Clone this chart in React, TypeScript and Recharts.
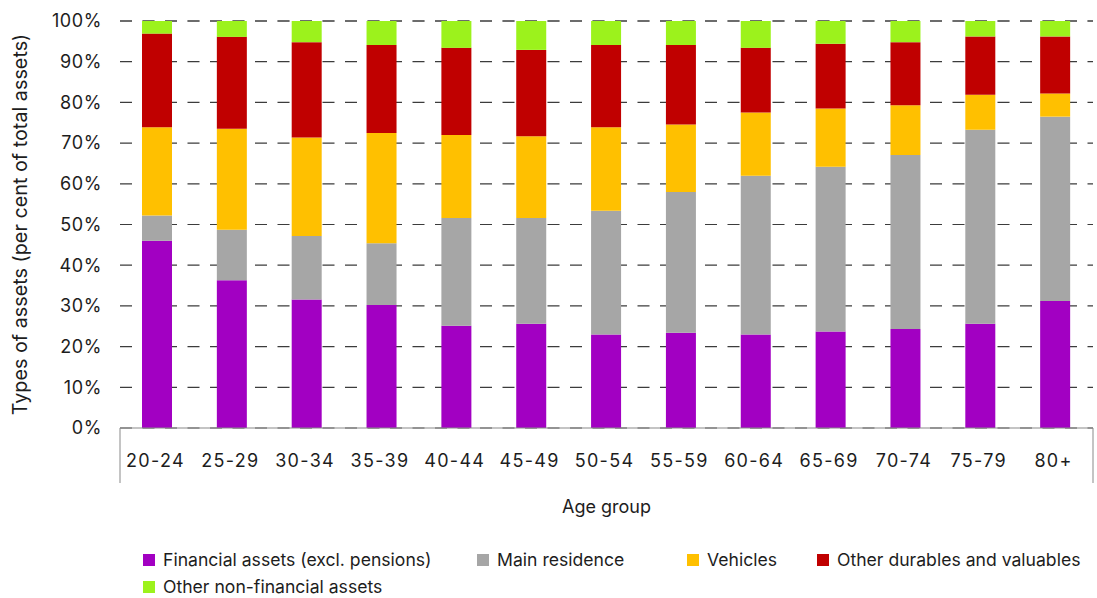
import React from 'react';
import { BarChart, Bar, XAxis, YAxis, CartesianGrid, Legend } from 'recharts';

// Age groups on the category axis
const categories = ['20-24', '25-29', '30-34', '35-39', '40-44', '45-49', '50-54', '55-59', '60-64', '65-69', '70-74', '75-79', '80+'];

// Share of total assets by type, per cent
const financial = [46.0, 36.3, 31.6, 30.2, 25.1, 25.6, 23.0, 23.4, 23.0, 23.7, 24.3, 25.6, 31.2];
const residence = [6.2, 12.4, 15.6, 15.2, 26.5, 26.0, 30.4, 34.6, 39.0, 40.5, 42.8, 47.7, 45.3];
const vehicles = [21.7, 24.8, 24.2, 27.1, 20.4, 20.1, 20.5, 16.6, 15.5, 14.3, 12.2, 8.6, 5.7];
const durables = [23.0, 22.6, 23.4, 21.6, 21.4, 21.2, 20.2, 19.5, 15.9, 15.9, 15.5, 14.3, 14.0];
const otherNonFinancial = [3.1, 3.9, 5.2, 5.9, 6.6, 7.1, 5.9, 5.9, 6.6, 5.6, 5.2, 3.8, 3.8];

const yTicks = [0, 10, 20, 30, 40, 50, 60, 70, 80, 90, 100];

const seriesNames = ['Financial assets (excl. pensions)', 'Main residence', 'Vehicles', 'Other durables and valuables', 'Other non-financial assets'];
const seriesKeys = ['financial', 'residence', 'vehicles', 'durables', 'otherNonFinancial'];
const seriesColors = ['#A200C2', '#A6A6A6', '#FFC000', '#C00000', '#9CF21C'];
const seriesValues = [financial, residence, vehicles, durables, otherNonFinancial];

const data = categories.map((age, i) => {
  const row: Record<string, string | number> = { age };
  seriesKeys.forEach((k, s) => {
    row[k] = seriesValues[s][i];
  });
  return row;
});

const WIDTH = 1097;
const HEIGHT = 598;
const Y_AXIS_W = 120;
const PLOT_RIGHT_MARGIN = 4;
const PLOT_TOP = 21;
const PLOT_BOTTOM = 428;
const BAND = (WIDTH - Y_AXIS_W - PLOT_RIGHT_MARGIN) / categories.length;
const TEXT = '#1d1d1d';
const FONT = 'Inter, "Noto Sans", sans-serif';

function AgeTick(props: any) {
  const { x, y, payload, index } = props;
  const last = categories.length - 1;
  return (
    <g>
      <text x={x - 2} y={y + 39} textAnchor="middle" fontSize={18} letterSpacing={1.3} fill={TEXT} fontFamily={FONT}>
        {payload.value}
      </text>
      {index === 0 && (
        <line x1={x - BAND / 2} x2={x - BAND / 2} y1={PLOT_BOTTOM} y2={483} stroke="#898989" strokeWidth={1} />
      )}
      {index === last && (
        <line x1={x + BAND / 2} x2={x + BAND / 2} y1={PLOT_BOTTOM} y2={483} stroke="#898989" strokeWidth={1} />
      )}
    </g>
  );
}

// Legend slots laid out in two rows under the chart
const legendSlots = [
  { left: 143, top: 8 },
  { left: 477, top: 8 },
  { left: 687, top: 8 },
  { left: 817, top: 8 },
  { left: 143, top: 35 },
];

function AssetLegend() {
  return (
    <div style={{ position: 'relative', width: WIDTH, height: 52, fontFamily: FONT }}>
      {seriesNames.map((name, i) => (
        <div
          key={name}
          style={{
            position: 'absolute',
            left: legendSlots[i].left,
            top: legendSlots[i].top,
            display: 'flex',
            alignItems: 'center',
            whiteSpace: 'nowrap',
            height: 13,
          }}
        >
          <span style={{ display: 'inline-block', width: 12, height: 12, background: seriesColors[i], marginRight: 8 }} />
          <span style={{ fontSize: 17.6, color: TEXT, lineHeight: '13px' }}>{name}</span>
        </div>
      ))}
    </div>
  );
}

export default function App() {
  return (
    <div style={{ position: 'absolute', left: 0, top: 0, width: WIDTH, height: HEIGHT, background: '#fff', fontFamily: FONT }}>
      <BarChart
        width={WIDTH}
        height={HEIGHT}
        data={data}
        margin={{ top: PLOT_TOP, right: PLOT_RIGHT_MARGIN, bottom: 110, left: 0 }}
        barSize={30}
      >
        <CartesianGrid vertical={false} stroke="#3c3c3c" strokeWidth={1.2} strokeDasharray="12 10.5" />
        <XAxis
          dataKey="age"
          interval={0}
          height={60}
          tickLine={false}
          tickSize={0}
          tickMargin={0}
          axisLine={{ stroke: '#898989', strokeWidth: 1.2 }}
          tick={<AgeTick />}
          label={{
            content: () => (
              <text x={606.5} y={513} textAnchor="middle" fontSize={18} fill={TEXT} fontFamily={FONT}>
                Age group
              </text>
            ),
          }}
        />
        <YAxis
          width={Y_AXIS_W}
          domain={[0, 100]}
          ticks={yTicks}
          interval={0}
          tickFormatter={(v: number) => `${v}%`}
          axisLine={false}
          tickLine={false}
          tickSize={6}
          tickMargin={12}
          tick={{ fontSize: 18, fill: TEXT, fontFamily: FONT, letterSpacing: 0.6 }}
          label={{
            content: () => (
              <text
                x={27}
                y={224.5}
                transform="rotate(-90 27 224.5)"
                textAnchor="middle"
                fontSize={19.8}
                fill={TEXT}
                fontFamily={FONT}
              >
                Types of assets (per cent of total assets)
              </text>
            ),
          }}
        />
        {seriesKeys.map((k, i) => (
          <Bar key={k} dataKey={k} name={seriesNames[i]} stackId="assets" fill={seriesColors[i]} isAnimationActive={false} />
        ))}
        <Legend
          layout="horizontal"
          verticalAlign="middle"
          align="center"
          wrapperStyle={{ top: 545, left: 0, width: WIDTH, height: 52 }}
          content={() => <AssetLegend />}
        />
      </BarChart>
    </div>
  );
}
